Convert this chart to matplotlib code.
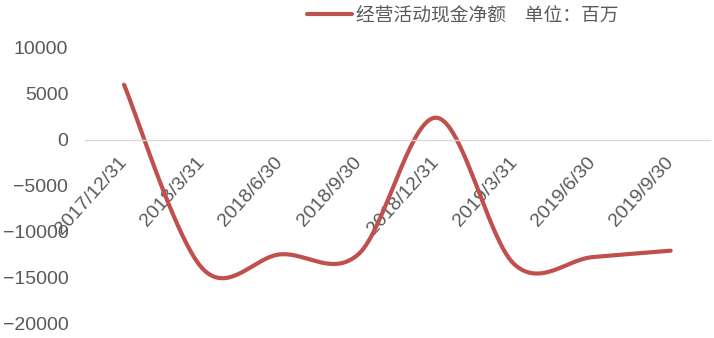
import numpy as np
import matplotlib.pyplot as plt

plt.rcParams['font.family'] = ['Liberation Sans', 'Noto Sans CJK SC', 'DejaVu Sans']

# data (millions)
dates = ['2017/12/31', '2018/3/31', '2018/6/30', '2018/9/30',
         '2018/12/31', '2019/3/31', '2019/6/30', '2019/9/30']
cash_flow = [6000, -14000, -12500, -12500, 2400, -13600, -12800, -12100]

series_name = '经营活动现金净额'
unit_text = '单位：百万'
line_color = '#C0504D'
text_color = '#595959'


def smooth(xs, ys, n=40):
    # Excel-style smoothed line: cubic Bezier segments with Catmull-Rom control points
    p = np.column_stack([xs, ys]).astype(float)
    p = np.vstack([p[0], p, p[-1]])
    out = []
    t = np.linspace(0, 1, n)[:, None]
    for i in range(1, len(p) - 2):
        b0 = p[i]
        b3 = p[i + 1]
        b1 = b0 + (p[i + 1] - p[i - 1]) / 6
        b2 = b3 - (p[i + 2] - p[i]) / 6
        seg = ((1 - t) ** 3) * b0 + 3 * t * (1 - t) ** 2 * b1 + 3 * t ** 2 * (1 - t) * b2 + t ** 3 * b3
        out.append(seg if i == 1 else seg[1:])
    out = np.vstack(out)
    return out[:, 0], out[:, 1]


x = np.arange(len(dates))
sx, sy = smooth(x, cash_flow)

fig = plt.figure(figsize=(7.14, 3.38), dpi=100)
ax = fig.add_axes([0.119, 0.044, 0.875, 0.814])

line, = ax.plot(sx, sy, color=line_color, lw=3, solid_capstyle='round')

ax.set_xlim(-0.5, len(dates) - 0.5)
ax.set_ylim(-20000, 10000)
ax.set_yticks(np.arange(-20000, 10001, 5000))

for s in ['top', 'right', 'left']:
    ax.spines[s].set_visible(False)
ax.spines['bottom'].set_position(('data', 0))
ax.spines['bottom'].set_color('#D9D9D9')
ax.spines['bottom'].set_linewidth(1)

ax.set_xticks(x)
ax.set_xticklabels(dates, rotation=48, ha='right', va='center', rotation_mode='anchor')
ax.tick_params(axis='x', length=0, pad=14, labelsize=14, labelcolor=text_color)
ax.tick_params(axis='y', length=0, pad=12, labelsize=14, labelcolor=text_color)

fig.legend([line], [series_name + '\u3000' + unit_text], loc='center left',
           bbox_to_anchor=(307 / 714, 1 - 15 / 338), borderaxespad=0, borderpad=0,
           frameon=False, handlelength=2.4, handletextpad=0.2, labelcolor=text_color,
           prop={'family': ['Noto Sans CJK SC', 'DejaVu Sans'], 'size': 13.5})

fig.savefig('out.png', dpi=100)
